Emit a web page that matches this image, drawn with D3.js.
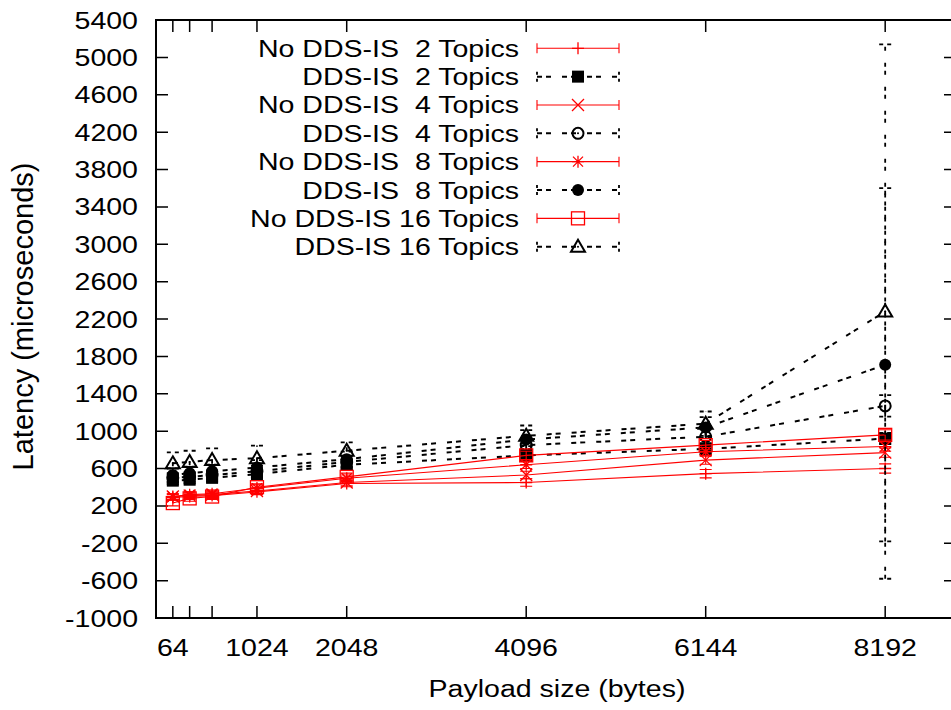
<!DOCTYPE html>
<html>
<head>
<meta charset="utf-8">
<script src="https://cdn.jsdelivr.net/npm/d3@7"></script>
<style>
    body { margin: 0; background: #fff; }
    svg text { font-family: "Liberation Sans", Arial, sans-serif; fill: #000; white-space: pre; }
</style>
</head>
<body>
<svg id="chart" width="951" height="710"></svg>
<script>
// payload sizes on the x axis and the tick labels
const payloads = [64, 256, 512, 1024, 2048, 4096, 6144, 8192];
const xTickLabels = ["64", "", "", "1024", "2048", "4096", "6144", "8192"];
const yTicks = [-1000, -600, -200, 200, 600, 1000, 1400, 1800, 2200, 2600, 3000, 3400, 3800, 4200, 4600, 5000, 5400];

// mean latency and std deviation per series (microseconds)
const noDds2 = [290, 300, 310, 350, 440, 450, 545, 600];
const noDds2Err = [30, 30, 30, 30, 35, 40, 45, 50];
const dds2 = [470, 480, 500, 540, 640, 740, 810, 920];
const dds2Err = [40, 40, 40, 40, 50, 60, 60, 60];
const noDds4 = [300, 310, 320, 360, 450, 530, 690, 770];
const noDds4Err = [30, 30, 30, 30, 35, 40, 45, 50];
const dds4 = [500, 510, 530, 570, 670, 850, 940, 1270];
const dds4Err = [50, 50, 50, 60, 60, 70, 80, 115];
const noDds8 = [300, 320, 330, 390, 495, 640, 780, 835];
const noDds8Err = [30, 30, 30, 35, 35, 40, 45, 50];
const dds8 = [530, 550, 570, 610, 700, 910, 1040, 1710];
const dds8Err = [70, 70, 70, 80, 80, 100, 110, 1890];
const noDds16 = [230, 280, 300, 400, 510, 740, 850, 960];
const noDds16Err = [30, 30, 30, 35, 40, 45, 50, 55];
const dds16 = [655, 670, 690, 710, 790, 950, 1080, 2280];
const dds16Err = [117, 120, 126, 135, 90, 110, 130, 2860];

const series = [
    { title: "No DDS-IS  2 Topics", values: noDds2, errs: noDds2Err, marker: "plus", dds: false },
    { title: "DDS-IS  2 Topics", values: dds2, errs: dds2Err, marker: "fsquare", dds: true },
    { title: "No DDS-IS  4 Topics", values: noDds4, errs: noDds4Err, marker: "cross", dds: false },
    { title: "DDS-IS  4 Topics", values: dds4, errs: dds4Err, marker: "ocircle", dds: true },
    { title: "No DDS-IS  8 Topics", values: noDds8, errs: noDds8Err, marker: "star", dds: false },
    { title: "DDS-IS  8 Topics", values: dds8, errs: dds8Err, marker: "fcircle", dds: true },
    { title: "No DDS-IS 16 Topics", values: noDds16, errs: noDds16Err, marker: "osquare", dds: false },
    { title: "DDS-IS 16 Topics", values: dds16, errs: dds16Err, marker: "otriangle", dds: true }
];

const svg = d3.select("#chart");
const plotLeft = 156, plotRight = 956, plotTop = 20, plotBottom = 618;
const stretch = 1.165; // labels in the picture are wide
const fontSize = 24.5;

const x = d3.scaleLinear().domain([-128, 9000]).range([plotLeft, plotRight]);
const y = d3.scaleLinear().domain([-1000, 5400]).range([plotBottom, plotTop]);

const RED = "#ff0000";
const DASH = "5,4,5,11";
const ERR_DASH = "4,4,4,12";

function styleFor(s) {
    return s.dds
        ? { color: "#000", width: 2, dash: DASH, errWidth: 1.8, errDash: ERR_DASH }
        : { color: RED, width: 1.1, dash: null, errWidth: 1.1, errDash: null };
}

// gnuplot-like point types
function drawMarker(g, type, cx, cy, color) {
    const m = g.append("g").attr("transform", `translate(${cx},${cy})`);
    const sw = 1.3;
    if (type === "plus") {
        m.append("path").attr("d", "M-6,0H6M0,-6V6").attr("stroke", color).attr("stroke-width", sw);
    } else if (type === "cross") {
        m.append("path").attr("d", "M-6,-6L6,6M-6,6L6,-6").attr("stroke", color).attr("stroke-width", sw);
    } else if (type === "star") {
        m.append("path").attr("d", "M-6,0H6M0,-6V6M-5,-5L5,5M-5,5L5,-5").attr("stroke", color).attr("stroke-width", sw);
    } else if (type === "osquare") {
        m.append("rect").attr("x", -6.5).attr("y", -6.5).attr("width", 13).attr("height", 13)
            .attr("fill", "none").attr("stroke", color).attr("stroke-width", sw);
    } else if (type === "fsquare") {
        m.append("rect").attr("x", -6).attr("y", -6).attr("width", 12).attr("height", 12).attr("fill", color);
    } else if (type === "fcircle") {
        m.append("circle").attr("r", 6).attr("fill", color);
    } else if (type === "ocircle") {
        m.append("circle").attr("r", 5.5).attr("fill", "none").attr("stroke", color).attr("stroke-width", 2);
        m.append("circle").attr("r", 1).attr("fill", color);
    } else if (type === "otriangle") {
        m.append("path").attr("d", "M0,-7L7,5H-7Z").attr("fill", "none")
            .attr("stroke", color).attr("stroke-width", 2).attr("stroke-linejoin", "miter");
        m.append("circle").attr("r", 1).attr("fill", color);
    }
}

function stretchedText(g, tx, ty, str, anchor) {
    return g.append("text")
        .attr("transform", `translate(${tx},${ty}) scale(${stretch},1)`)
        .attr("text-anchor", anchor)
        .attr("font-size", fontSize)
        .text(str);
}

// axes / border
const axis = svg.append("g");
const tickLen = 12;

yTicks.forEach(v => {
    axis.append("path").attr("d", `M${plotLeft},${y(v)}h${tickLen}M${plotRight},${y(v)}h${-tickLen}`)
        .attr("stroke", "#000").attr("stroke-width", 1.5);
    stretchedText(axis, 138, y(v) + 8.5, String(v), "end");
});

payloads.forEach((v, i) => {
    axis.append("path").attr("d", `M${x(v)},${plotBottom}v${-tickLen}M${x(v)},${plotTop}v${tickLen}`)
        .attr("stroke", "#000").attr("stroke-width", 1.5);
    if (xTickLabels[i]) stretchedText(axis, x(v), 656, xTickLabels[i], "middle");
});

axis.append("rect")
    .attr("x", plotLeft).attr("y", plotTop)
    .attr("width", plotRight - plotLeft).attr("height", plotBottom - plotTop)
    .attr("fill", "none").attr("stroke", "#000").attr("stroke-width", 2);

stretchedText(axis, (428 + 686) / 2, 697, "Payload size (bytes)", "middle");

axis.append("text")
    .attr("transform", `translate(33,${(163 + 470) / 2}) rotate(-90)`)
    .attr("text-anchor", "middle")
    .attr("font-size", 29)
    .text("Latency (microseconds)");

// series in gnuplot plot order
const line = d3.line().x(d => x(d.p)).y(d => y(d.v));
const plot = svg.append("g");

series.forEach(s => {
    const st = styleFor(s);
    const pts = payloads.map((p, i) => ({ p, v: s.values[i], e: s.errs[i] }));
    const g = plot.append("g");

    g.append("path")
        .datum(pts)
        .attr("d", line)
        .attr("fill", "none")
        .attr("stroke", st.color)
        .attr("stroke-width", st.width)
        .attr("stroke-dasharray", st.dash);

    g.selectAll(".err")
        .data(pts)
        .enter().append("path")
        .attr("class", "err")
        .attr("d", d => {
            const cx = x(d.p), y0 = y(d.v - d.e), y1 = y(d.v + d.e);
            return `M${cx},${y0}V${y1}M${cx - 6},${y0}h12M${cx - 6},${y1}h12`;
        })
        .attr("fill", "none")
        .attr("stroke", st.color)
        .attr("stroke-width", st.errWidth)
        .attr("stroke-dasharray", st.errDash);

    pts.forEach(d => drawMarker(g, s.marker, x(d.p), y(d.v), st.color));
});

// legend
const legend = svg.append("g");
const rowY0 = 48.3, rowStep = 28.34;
const sx0 = 537, sx1 = 619, sMid = 578;

series.forEach((s, i) => {
    const st = styleFor(s);
    const cy = rowY0 + i * rowStep;
    stretchedText(legend, 519, cy + 8.5, s.title, "end");
    legend.append("path")
        .attr("d", `M${sx0},${cy}H${sx1}`)
        .attr("fill", "none")
        .attr("stroke", st.color)
        .attr("stroke-width", st.width)
        .attr("stroke-dasharray", st.dash);
    legend.append("path")
        .attr("d", `M${sx0},${cy - 5}v10M${sx1},${cy - 5}v10`)
        .attr("fill", "none")
        .attr("stroke", st.color)
        .attr("stroke-width", st.errWidth)
        .attr("stroke-dasharray", s.dds ? "3,4" : null);
    drawMarker(legend, s.marker, sMid, cy, st.color);
});
</script>
</body>
</html>
